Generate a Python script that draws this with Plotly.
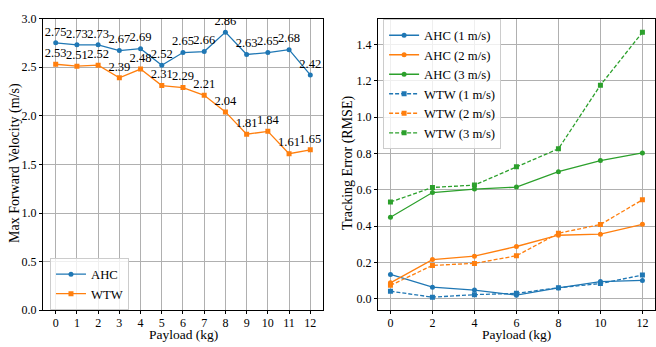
import plotly.graph_objects as go

# Left panel data
payload_left = list(range(13))
ahc_vel = [2.75, 2.73, 2.73, 2.67, 2.69, 2.52, 2.65, 2.66, 2.86, 2.63, 2.65, 2.68, 2.42]
wtw_vel = [2.53, 2.51, 2.52, 2.39, 2.48, 2.31, 2.29, 2.21, 2.04, 1.81, 1.84, 1.61, 1.65]

# Right panel data
payload_right = [0, 2, 4, 6, 8, 10, 12]
ahc_1 = [0.134, 0.064, 0.048, 0.020, 0.060, 0.095, 0.101]
ahc_2 = [0.088, 0.216, 0.235, 0.288, 0.350, 0.356, 0.410]
ahc_3 = [0.449, 0.585, 0.604, 0.615, 0.700, 0.761, 0.803]
wtw_1 = [0.042, 0.009, 0.023, 0.030, 0.061, 0.084, 0.131]
wtw_2 = [0.074, 0.184, 0.195, 0.237, 0.361, 0.409, 0.545]
wtw_3 = [0.533, 0.613, 0.626, 0.727, 0.826, 1.176, 1.467]

BLUE, ORANGE, GREEN = "#1f77b4", "#ff7f0e", "#2ca02c"
FONT = "Liberation Serif, Times New Roman, serif"

fig = go.Figure()

fig.add_trace(go.Scatter(x=payload_left, y=ahc_vel, name="AHC", mode="lines+markers+text",
                         text=[f"{v:.2f}" for v in ahc_vel], textposition="top center",
                         textfont=dict(size=12.5, color="black", family=FONT),
                         line=dict(color=BLUE, width=1.3), marker=dict(symbol="circle", size=5, color=BLUE),
                         xaxis="x", yaxis="y", legend="legend"))
fig.add_trace(go.Scatter(x=payload_left, y=wtw_vel, name="WTW", mode="lines+markers+text",
                         text=[f"{v:.2f}" for v in wtw_vel], textposition="top center",
                         textfont=dict(size=12.5, color="black", family=FONT),
                         line=dict(color=ORANGE, width=1.3), marker=dict(symbol="square", size=5, color=ORANGE),
                         xaxis="x", yaxis="y", legend="legend"))

right_series = [
    ("AHC (1 m/s)", ahc_1, BLUE, "solid", "circle"),
    ("AHC (2 m/s)", ahc_2, ORANGE, "solid", "circle"),
    ("AHC (3 m/s)", ahc_3, GREEN, "solid", "circle"),
    ("WTW (1 m/s)", wtw_1, BLUE, "dash", "square"),
    ("WTW (2 m/s)", wtw_2, ORANGE, "dash", "square"),
    ("WTW (3 m/s)", wtw_3, GREEN, "dash", "square"),
]
for name, vals, col, dash, sym in right_series:
    fig.add_trace(go.Scatter(x=payload_right, y=vals, name=name, mode="lines+markers",
                             line=dict(color=col, width=1.3, dash="4px,2px" if dash == "dash" else "solid"),
                             marker=dict(symbol=sym, size=5, color=col),
                             xaxis="x2", yaxis="y2", legend="legend2"))

axis_common = dict(showline=True, linecolor="black", linewidth=1, mirror=True,
                   ticks="outside", ticklen=3, tickcolor="black", tickwidth=1,
                   showgrid=True, gridcolor="#b0b0b0", gridwidth=1, zeroline=False,
                   tickfont=dict(family=FONT, size=12, color="black"))

W, H = 656, 347
fig.update_layout(
    width=W, height=H,
    margin=dict(l=0, r=0, t=0, b=0),
    paper_bgcolor="white", plot_bgcolor="white",
    font=dict(family=FONT, color="black"),
    xaxis=dict(domain=[0.0655, 0.4924], range=[-0.6, 12.6], tickmode="array",
               tickvals=payload_left, anchor="y", ticklabelstandoff=-2, **axis_common),
    yaxis=dict(domain=[0.0893, 0.9654], range=[0, 3.0], dtick=0.5, tickformat=".1f", anchor="x",
               **axis_common),
    xaxis2=dict(domain=[0.576, 0.9985], range=[-0.6, 12.6], tickmode="array",
                tickvals=payload_right, anchor="y2", ticklabelstandoff=-2, **axis_common),
    yaxis2=dict(domain=[0.0893, 0.9654], range=[-0.063, 1.543], dtick=0.2, tickformat=".1f", anchor="x2",
                **axis_common),
    legend=dict(x=0.0762, y=1 - 262 / H, xanchor="left", yanchor="top",
                bgcolor="rgba(255,255,255,0.8)", bordercolor="#cccccc", borderwidth=1,
                font=dict(family=FONT, size=12.7), tracegroupgap=0, itemwidth=30),
    legend2=dict(x=0.584, y=1 - 13 / H, xanchor="left", yanchor="top",
                 bgcolor="rgba(255,255,255,0.8)", bordercolor="#cccccc", borderwidth=1,
                 font=dict(family=FONT, size=12.7), tracegroupgap=0, itemwidth=30),
    showlegend=True,
    annotations=[
        dict(text="Max Forward Velocity (m/s)", textangle=-90, xref="paper", yref="paper",
             x=15.5 / W, y=1 - 163 / H, xanchor="center", yanchor="middle", showarrow=False,
             font=dict(family=FONT, size=14, color="black")),
        dict(text="Tracking Error (RMSE)", textangle=-90, xref="paper", yref="paper",
             x=348.5 / W, y=1 - 163 / H, xanchor="center", yanchor="middle", showarrow=False,
             font=dict(family=FONT, size=14, color="black")),
        dict(text="Payload (kg)", xref="paper", yref="paper",
             x=183 / W, y=1 - 341 / H, xanchor="center", yanchor="middle", showarrow=False,
             font=dict(family=FONT, size=13.5, color="black")),
        dict(text="Payload (kg)", xref="paper", yref="paper",
             x=516.5 / W, y=1 - 341 / H, xanchor="center", yanchor="middle", showarrow=False,
             font=dict(family=FONT, size=13.5, color="black")),
    ],
)

fig.write_html("out.html")
